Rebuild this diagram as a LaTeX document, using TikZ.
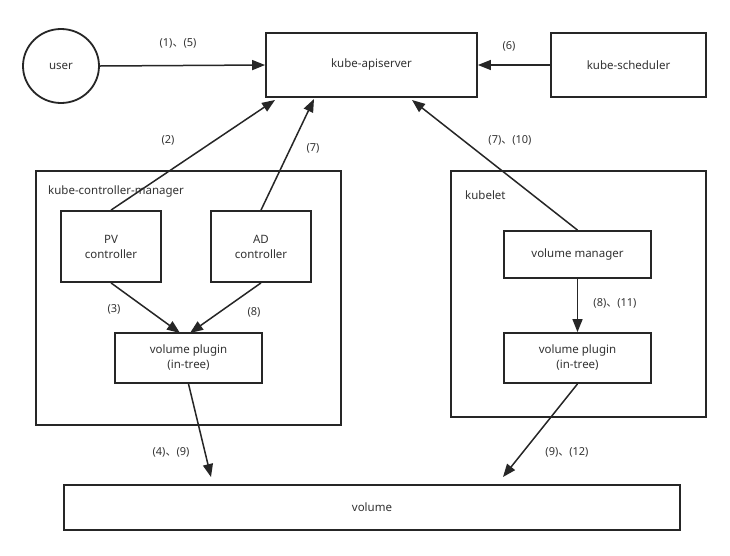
\documentclass[tikz,border=0pt]{standalone}
\usepackage{fontspec}
\setmainfont{Noto Sans}
\newfontfamily\cjk{Noto Sans CJK SC}
\newcommand{\dun}{{\cjk 、}}
\usetikzlibrary{arrows.meta,shapes.geometric}
\definecolor{ln}{HTML}{262626}
\definecolor{tx}{HTML}{333333}
\begin{document}
\begin{tikzpicture}[x=1pt,y=-1pt,
  box/.style={draw=ln,line width=1.8pt,inner sep=0pt,text=tx,align=center,font=\fontsize{11.5}{15}\selectfont},
  frame/.style={draw=ln,line width=1.8pt,inner sep=0pt},
  lbl/.style={text=tx,font=\fontsize{11}{14}\selectfont,inner sep=0pt},
  arr/.style={draw=ln,line width=1.5pt,-{Triangle[length=13pt,width=10pt]}}]
\fill[white] (0,0) rectangle (730,555);
\useasboundingbox (0,0) rectangle (730,555);
% containers
\node[frame,minimum width=305pt,minimum height=254pt] (cm) at (188.5,298) {};
\node[frame,minimum width=255pt,minimum height=246pt] (kl) at (578.5,294) {};
\node[lbl,anchor=west,font=\fontsize{11.5}{15}\selectfont] (cmlabel) at (48,192) {kube-controller-manager};
\node[lbl,anchor=west,font=\fontsize{11.5}{15}\selectfont] (kllabel) at (465,195) {kubelet};
% nodes
\node[box,ellipse,minimum width=76pt,minimum height=74pt] (user) at (61,66) {user};
\node[box,minimum width=211pt,minimum height=64pt] (api) at (371.5,65) {kube-apiserver};
\node[box,minimum width=155pt,minimum height=64pt] (sched) at (628.5,65) {kube-scheduler};
\node[box,minimum width=100pt,minimum height=71pt] (pv) at (111,246.5) {PV\\controller};
\node[box,minimum width=100pt,minimum height=71pt] (ad) at (261,246.5) {AD\\controller};
\node[box,minimum width=147pt,minimum height=50pt] (vpl) at (188.5,358) {volume plugin\\(in-tree)};
\node[box,minimum width=147pt,minimum height=47pt] (vm) at (577.5,254.5) {volume manager};
\node[box,minimum width=147pt,minimum height=50pt] (vpr) at (577.5,358) {volume plugin\\(in-tree)};
\node[box,minimum width=616pt,minimum height=45pt] (vol) at (372,507.5) {volume};
% arrow end points
\coordinate (t2) at (275,100);
\coordinate (t7) at (314,99);
\coordinate (t710) at (412,100);
\coordinate (t3) at (180,333);
\coordinate (t8) at (190,333);
\coordinate (t4) at (211,477);
\coordinate (t9) at (503,477);
% connectors
\draw[arr] (user.east) -- (api.west);
\draw[arr] (sched.west) -- (api.east);
\draw[arr] (pv.north) -- (t2);
\draw[arr] (ad.north) -- (t7);
\draw[arr] (vm.north) -- (t710);
\draw[arr] (pv.south) -- (t3);
\draw[arr] (ad.south) -- (t8);
\draw[arr] (vm.south) -- (vpr.north);
\draw[arr] (vpl.south) -- (t4);
\draw[arr] (vpr.south) -- (t9);
% labels
\node[lbl] (l15) at (178,43) {(1)\dun(5)};
\node[lbl] (l6) at (509,46) {(6)};
\node[lbl] (l2) at (168,140) {(2)};
\node[lbl] (l7) at (313,148) {(7)};
\node[lbl] (l710) at (510,140) {(7)\dun(10)};
\node[lbl] (l3) at (114,309) {(3)};
\node[lbl] (l8) at (254,312) {(8)};
\node[lbl] (l811) at (615,303) {(8)\dun(11)};
\node[lbl] (l49) at (171,452) {(4)\dun(9)};
\node[lbl] (l912) at (567,452) {(9)\dun(12)};
\end{tikzpicture}
\end{document}
